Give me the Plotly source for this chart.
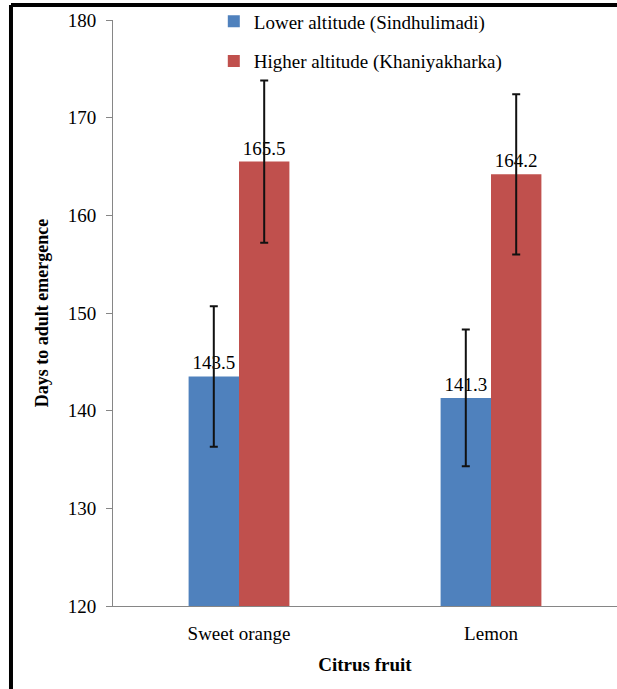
import plotly.graph_objects as go

categories = ["Sweet orange", "Lemon"]
lower_vals = [143.5, 141.3]
lower_err = [7.2, 7.0]
higher_vals = [165.5, 164.2]
higher_err = [8.3, 8.2]
lower_name = "Lower altitude (Sindhulimadi)"
higher_name = "Higher altitude (Khaniyakharka)"
y_ticks = [120, 130, 140, 150, 160, 170, 180]

FONT = "Liberation Serif"

fig = go.Figure()
fig.add_trace(go.Bar(
    x=categories, y=lower_vals, name=lower_name, legendgroup="a",
    marker=dict(color="#4F81BD", line=dict(width=0)),
    error_y=dict(type="data", array=lower_err, color="#111111", thickness=2, width=4),
    text=[f"{v:.1f}" for v in lower_vals], textposition="outside",
    textfont=dict(family=FONT, size=19, color="black"), cliponaxis=False,
))
fig.add_trace(go.Bar(
    x=categories, y=higher_vals, name=higher_name, legendgroup="b",
    marker=dict(color="#C0504D", line=dict(width=0)),
    error_y=dict(type="data", array=higher_err, color="#111111", thickness=2, width=4),
    text=[f"{v:.1f}" for v in higher_vals], textposition="outside",
    textfont=dict(family=FONT, size=19, color="black"), cliponaxis=False,
))

fig.update_layout(
    width=617, height=689,
    margin=dict(l=113, r=0, t=20, b=83),
    paper_bgcolor="white", plot_bgcolor="white",
    barmode="group", bargap=0.6, bargroupgap=0,
    font=dict(family=FONT, size=19, color="black"),
    legend=dict(x=0.2, y=1.03, xanchor="left", yanchor="top",
                bgcolor="rgba(0,0,0,0)", tracegroupgap=12,
                font=dict(family=FONT, size=19, color="black")),
    xaxis=dict(range=[-0.5, 1.5], showline=True, linecolor="#868686", linewidth=1,
               ticks="", showgrid=False, ticklabelstandoff=10,
               tickfont=dict(family=FONT, size=19, color="black"),
               title=dict(text="<b>Citrus fruit</b>", font=dict(family=FONT, size=19), standoff=14)),
    yaxis=dict(range=[120, 180], tickvals=y_ticks, showline=True, linecolor="#868686",
               linewidth=1, ticks="outside", ticklen=6, tickcolor="#868686",
               showgrid=False, zeroline=False, ticklabelstandoff=6,
               tickfont=dict(family=FONT, size=19, color="black"),
               title=dict(text="<b>Days to adult emergence</b>", font=dict(family=FONT, size=18), standoff=14)),
    shapes=[
        dict(type="line", xref="paper", yref="paper",
             x0=-0.2024, x1=1.0, y0=1.0256, y1=1.0256,
             line=dict(color="black", width=4), layer="above"),
        dict(type="line", xref="paper", yref="paper",
             x0=-0.2024, x1=-0.2024, y0=-0.2, y1=1.0256,
             line=dict(color="black", width=4), layer="above"),
    ],
)

fig.write_html(
    "out.html", config={"displayModeBar": False},
    post_script="document.body.style.margin='0';",
)
